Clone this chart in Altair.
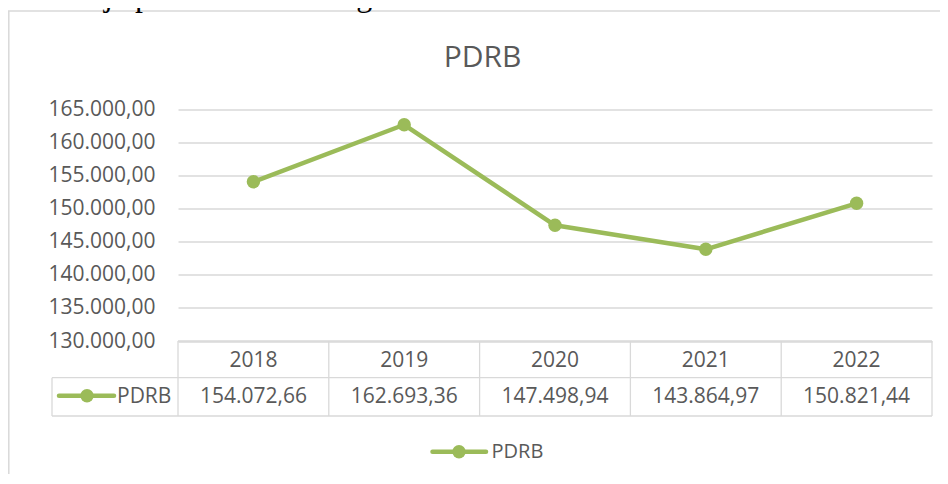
import altair as alt
import pandas as pd

# ---- data ----
years = ["2018", "2019", "2020", "2021", "2022"]
pdrb = [154072.66, 162693.36, 147498.94, 143864.97, 150821.44]
y_ticks = [130000, 135000, 140000, 145000, 150000, 155000, 160000, 165000]
series_name = "PDRB"
title_text = "PDRB"
intro_text = "an kinerja perekonomian negara."

df = pd.DataFrame({"year": years, "value": pdrb, "series": [series_name] * len(years)})
one = pd.DataFrame({"series": [series_name]})
intro_df = pd.DataFrame({"t": [intro_text]})
title_df = pd.DataFrame({"t": [title_text]})

# ---- style ----
GREEN = "#9BBB59"
GRID = "#D9D9D9"
TXT = "#595959"
FONT = "Open Sans"
W, H = 754, 231.5
ROW1_TOP, ROW2_TOP, ROW2_BOT = 231.5, 268.2, 306.5
LEG_LEFT = -126

xs = alt.Scale(type="band", domain=years, paddingInner=0, paddingOuter=0)
ys = alt.Scale(domain=[130000, 165000], zero=False, nice=False)

X = alt.X("year:N", scale=xs, axis=None)
Y_AXIS = alt.Axis(
    values=y_ticks, format=",.2f", grid=True, domain=False, ticks=False,
    labelFont=FONT, labelFontSize=21, labelColor=TXT, labelPadding=23,
    labelOverlap=False, gridColor=GRID, gridWidth=1.3, title=None,
)
Y = alt.Y("value:Q", scale=ys, axis=Y_AXIS)

line = alt.Chart(df).mark_line(
    color=GREEN, strokeWidth=4.5, strokeCap="round", strokeJoin="round"
).encode(x=X, y=Y)

points = alt.Chart(df).mark_circle(color=GREEN, size=180, opacity=1).encode(x=X, y=Y)

# ---- data table ----
header = alt.Chart(df).mark_text(
    font=FONT, fontSize=21, color=TXT, baseline="alphabetic"
).encode(x=X, y=alt.value(257.2), text="year:N")

vals = alt.Chart(df).mark_text(
    font=FONT, fontSize=21, color=TXT, baseline="alphabetic"
).encode(x=X, y=alt.value(293.5), text=alt.Text("value:Q", format=",.2f"))

vrules = alt.Chart(df).mark_rule(color=GRID, strokeWidth=1.3).encode(
    x=alt.X("year:N", scale=xs, bandPosition=0, axis=None),
    y=alt.value(ROW1_TOP), y2=alt.value(ROW2_BOT),
)
right_rule = alt.Chart(one).mark_rule(color=GRID, strokeWidth=1.3).encode(
    x=alt.value(W), y=alt.value(ROW1_TOP), y2=alt.value(ROW2_BOT)
)
leg_left_rule = alt.Chart(one).mark_rule(color=GRID, strokeWidth=1.3).encode(
    x=alt.value(LEG_LEFT), y=alt.value(ROW2_TOP), y2=alt.value(ROW2_BOT)
)
top_rule = alt.Chart(one).mark_rule(color=GRID, strokeWidth=1.3).encode(
    x=alt.value(0), x2=alt.value(W), y=alt.value(ROW1_TOP)
)
mid_rule = alt.Chart(one).mark_rule(color=GRID, strokeWidth=1.3).encode(
    x=alt.value(LEG_LEFT), x2=alt.value(W), y=alt.value(ROW2_TOP)
)
bot_rule = alt.Chart(one).mark_rule(color=GRID, strokeWidth=1.3).encode(
    x=alt.value(LEG_LEFT), x2=alt.value(W), y=alt.value(ROW2_BOT)
)

# legend key inside table
tkey_line = alt.Chart(one).mark_rule(color=GREEN, strokeWidth=4.5, strokeCap="round").encode(
    x=alt.value(-119), x2=alt.value(-64), y=alt.value(286.2)
)
tkey_dot = alt.Chart(one).mark_circle(color=GREEN, size=180, opacity=1).encode(
    x=alt.value(-91), y=alt.value(286.2)
)
tkey_txt = alt.Chart(one).mark_text(
    font=FONT, fontSize=21, color=TXT, align="left", baseline="alphabetic"
).encode(x=alt.value(-61), y=alt.value(293.5), text="series:N")

# bottom legend
leg_line = alt.Chart(one).mark_rule(color=GREEN, strokeWidth=4.5, strokeCap="round").encode(
    x=alt.value(254.5), x2=alt.value(308), y=alt.value(342.2)
)
leg_dot = alt.Chart(one).mark_circle(color=GREEN, size=180, opacity=1).encode(
    x=alt.value(281), y=alt.value(342.2)
)
leg_txt = alt.Chart(one).mark_text(
    font=FONT, fontSize=20, color=TXT, align="left", baseline="alphabetic"
).encode(x=alt.value(313.5), y=alt.value(348.8), text="series:N")

# title
title = alt.Chart(title_df).mark_text(
    font=FONT, fontSize=30, color=TXT, align="center", baseline="alphabetic"
).encode(x=alt.value(304.5), y=alt.value(-42.5), text="t:N")

# outer frame (top and left edges)
frame_top = alt.Chart(one).mark_rule(color=GRID, strokeWidth=1.5).encode(
    x=alt.value(-170), x2=alt.value(W + 8), y=alt.value(-98.5)
)
frame_left = alt.Chart(one).mark_rule(color=GRID, strokeWidth=1.5).encode(
    x=alt.value(-169.2), y=alt.value(-98.5), y2=alt.value(365)
)

# line of body text above the chart (cut by the top of the picture)
intro = alt.Chart(intro_df).mark_text(
    font="Liberation Serif", fontSize=32, color="#000000", align="left", baseline="alphabetic"
).encode(x=alt.value(-178), y=alt.value(-103.5), text="t:N")

chart = alt.layer(
    frame_top, frame_left, intro, title,
    top_rule, mid_rule, bot_rule, vrules, right_rule, leg_left_rule,
    line, points, header, vals,
    tkey_line, tkey_dot, tkey_txt,
    leg_line, leg_dot, leg_txt,
).properties(
    width=W, height=H,
    autosize=alt.AutoSizeParams(type="none"),
    padding={"left": 170, "top": 101.5, "right": 8, "bottom": 133},
).configure(
    view={"stroke": None},
    locale={
        "number": {
            "decimal": ",",
            "thousands": ".",
            "grouping": [3],
            "currency": ["Rp", ""],
        }
    },
)

chart.save("out.html", embed_options={"renderer": "svg", "actions": False})
